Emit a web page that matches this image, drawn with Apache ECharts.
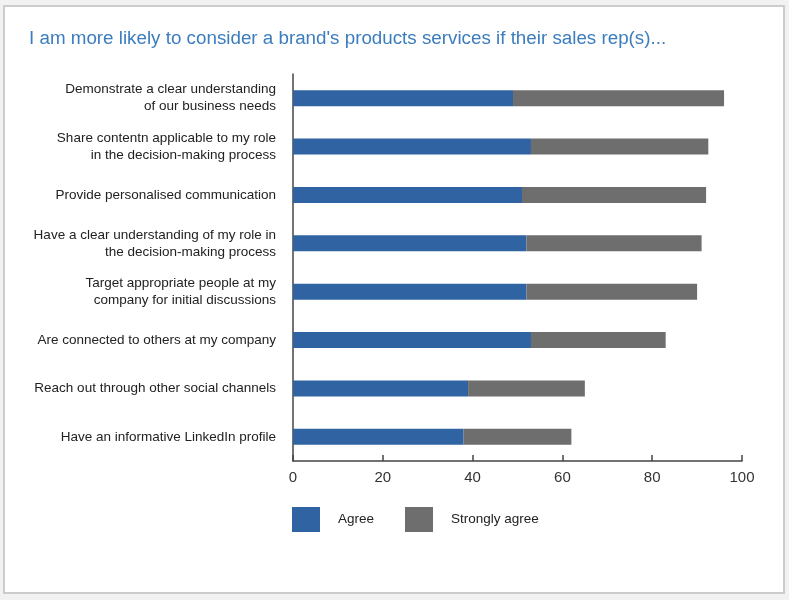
<!DOCTYPE html>
<html>
<head>
<meta charset="utf-8">
<script src="https://cdn.jsdelivr.net/npm/echarts@6/dist/echarts.min.js"></script>
<style>
html,body{margin:0;padding:0;background:#f2f2f2;}
#chart{width:789px;height:600px;}
</style>
</head>
<body>
<div id="chart"></div>
<script>
const titleText = "I am more likely to consider a brand's products services if their sales rep(s)...";
const categories = [
  "Demonstrate a clear understanding\nof our business needs",
  "Share contentn applicable to my role\nin the decision-making process",
  "Provide personalised communication",
  "Have a clear understanding of my role in\nthe decision-making process",
  "Target appropriate people at my\ncompany for initial discussions",
  "Are connected to others at my company",
  "Reach out through other social channels",
  "Have an informative LinkedIn profile"
];
const agree = [49, 53, 51, 52, 52, 53, 39, 38];
const stronglyAgree = [47, 39.5, 41, 39, 38, 30, 26, 24];
const seriesNames = ["Agree", "Strongly agree"];
const xTicks = [0, 100, 20];

const font = '"Helvetica Neue", Helvetica, "Liberation Sans", Arial, sans-serif';
const chart = echarts.init(document.getElementById('chart'), null, {renderer: 'canvas'});
chart.setOption({
  backgroundColor: '#f2f2f2',
  animation: false,
  textStyle: {fontFamily: font},
  graphic: [{
    type: 'rect', z: -10, silent: true,
    shape: {x: 4, y: 6, width: 780, height: 587},
    style: {fill: '#ffffff', stroke: '#cccccc', lineWidth: 2}
  }],
  title: {
    text: titleText,
    left: 29, top: 29, padding: 0,
    textStyle: {color: '#3b7dbd', fontSize: 18.8, fontWeight: 'normal', fontFamily: font}
  },
  legend: {
    data: seriesNames,
    left: 292, top: 507, padding: 0,
    itemWidth: 28, itemHeight: 25, itemGap: 31,
    icon: 'rect',
    textStyle: {color: '#222', fontSize: 13.5, fontFamily: font, padding: [0, 0, 0, 13]}
  },
  grid: {left: 293, right: 47, top: 74, bottom: 139, containLabel: false},
  xAxis: {
    type: 'value', min: xTicks[0], max: xTicks[1], interval: xTicks[2],
    axisLine: {show: true, lineStyle: {color: '#444', width: 1.5}},
    axisTick: {show: true, inside: true, length: 6, lineStyle: {color: '#444', width: 1.5}},
    axisLabel: {color: '#333', fontSize: 15, margin: 9, fontFamily: font},
    splitLine: {show: false}
  },
  yAxis: {
    type: 'category', data: categories, inverse: true,
    axisLine: {show: true, lineStyle: {color: '#444', width: 1.5}},
    axisTick: {show: false},
    axisLabel: {color: '#222', fontSize: 13.5, margin: 17, lineHeight: 17, align: 'right', fontFamily: font}
  },
  series: [
    {name: seriesNames[0], type: 'bar', stack: 'total', data: agree, barWidth: 16,
     itemStyle: {color: '#3063a2'}},
    {name: seriesNames[1], type: 'bar', stack: 'total', data: stronglyAgree, barWidth: 16,
     itemStyle: {color: '#6e6e6e'}}
  ]
});
</script>
</body>
</html>
